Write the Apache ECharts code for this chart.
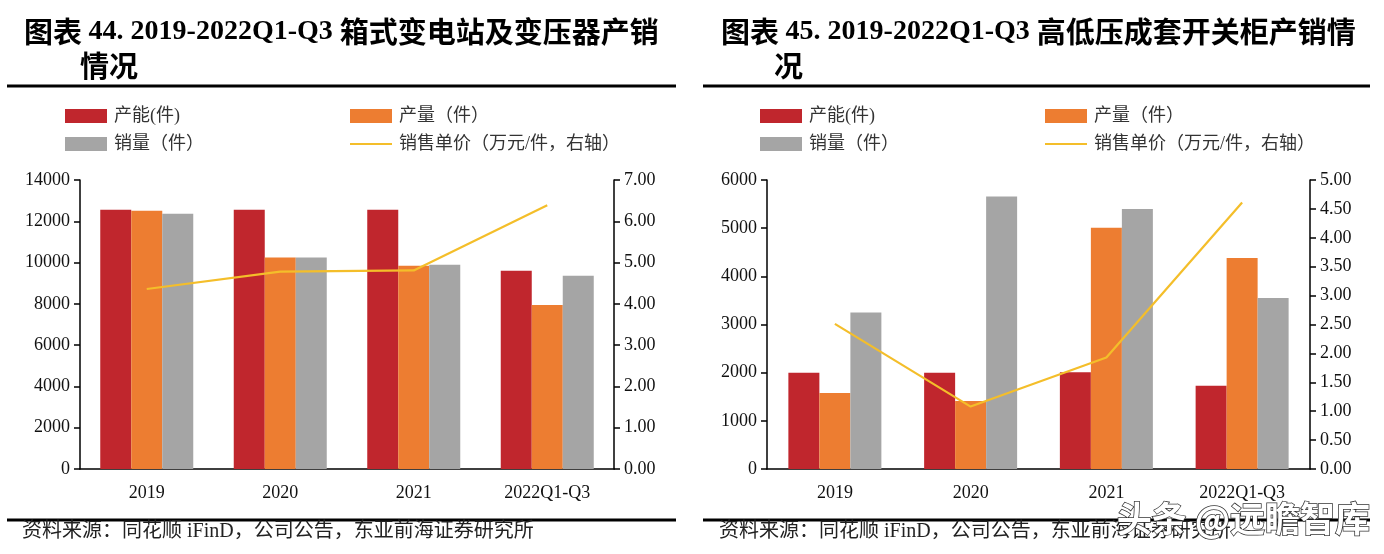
<!DOCTYPE html>
<html><head><meta charset="utf-8">
<script src="https://cdn.jsdelivr.net/npm/echarts@6/dist/echarts.min.js"></script>
<style>html,body{margin:0;padding:0;background:#fff}#c{width:1384px;height:554px}</style>
</head><body><div id="c"></div>
<script>
const categories = ['2019', '2020', '2021', '2022Q1-Q3'];
// Chart 44: box substations & transformers
const capacityA = [12560, 12560, 12560, 9600];
const outputA = [12510, 10240, 9840, 7950];
const salesA = [12370, 10240, 9890, 9360];
const priceA = [4.36, 4.78, 4.81, 6.39];
const leftTicksA = {min: 0, max: 14000, interval: 2000};
const rightTicksA = {min: 0, max: 7, interval: 1};
// Chart 45: switchgear
const capacityB = [2000, 2000, 2010, 1730];
const outputB = [1580, 1410, 5010, 4380];
const salesB = [3250, 5660, 5400, 3550];
const priceB = [2.51, 1.08, 1.93, 4.61];
const leftTicksB = {min: 0, max: 6000, interval: 1000};
const rightTicksB = {min: 0, max: 5, interval: 0.5};

const names = ['产能(件)', '产量（件）', '销量（件）', '销售单价（万元/件，右轴）'];
const colors = ['#C0262D', '#ED7D31', '#A5A5A5', '#F4BE2A'];
const SERIF = '"Liberation Serif","Noto Sans CJK SC",serif';
const CJK = '"Liberation Serif","Noto Sans CJK SC",sans-serif';

const chart = echarts.init(document.getElementById('c'));

function yAxes(gi, lt, rt) {
  const base = {
    type: 'value', gridIndex: gi, splitLine: {show: false},
    axisLine: {show: true, lineStyle: {color: '#000', width: 1.5}},
    axisTick: {show: true, length: 6, lineStyle: {color: '#000', width: 1.5}},
    axisLabel: {color: '#111', fontSize: 18, fontFamily: SERIF, margin: 10}
  };
  return [
    Object.assign({}, base, {position: 'left', min: lt.min, max: lt.max, interval: lt.interval,
      axisLabel: Object.assign({}, base.axisLabel, {formatter: v => String(v)})}),
    Object.assign({}, base, {position: 'right', min: rt.min, max: rt.max, interval: rt.interval,
      axisLabel: Object.assign({}, base.axisLabel, {formatter: v => v.toFixed(2)})})
  ];
}
function xAxis(gi) {
  return {
    type: 'category', gridIndex: gi, data: categories,
    axisLine: {show: true, lineStyle: {color: '#000', width: 1.5}},
    axisTick: {show: false},
    axisLabel: {color: '#111', fontSize: 18, fontFamily: SERIF, margin: 15}
  };
}
function seriesFor(gi, cap, out, sal, pr) {
  const xi = gi, yl = gi * 2, yr = gi * 2 + 1;
  const bar = (n, d, c) => ({name: n, type: 'bar', xAxisIndex: xi, yAxisIndex: yl, data: d,
    barWidth: 31, barGap: '0%', itemStyle: {color: c}});
  return [
    bar(names[0], cap, colors[0]),
    bar(names[1], out, colors[1]),
    bar(names[2], sal, colors[2]),
    {name: names[3], type: 'line', xAxisIndex: xi, yAxisIndex: yr, data: pr,
      symbol: 'none', lineStyle: {color: colors[3], width: 2.2}, itemStyle: {color: colors[3]}}
  ];
}
function legends(x1, x2) {
  const pos = [[x1, 106], [x2, 106], [x1, 134], [x2, 134]];
  return names.map((n, i) => ({
    data: [{name: n, icon: 'rect'}], left: pos[i][0], top: pos[i][1], padding: 0, itemWidth: 42,
    itemHeight: i === 3 ? 2 : 14,
    itemGap: 0, selectedMode: false,
    textStyle: {color: '#333', fontSize: 18, fontFamily: CJK, padding: [0, 0, 0, 2], lineHeight: 20}
  }));
}
function title(x, y, parts) {
  const rich = {
    c: {fontSize: 29, fontWeight: 'bold', fontFamily: '"Noto Sans CJK SC",sans-serif', fill: '#000', color: '#000'},
    l: {fontSize: 28, fontWeight: 'bold', fontFamily: '"Liberation Serif",serif', fill: '#000', color: '#000'}
  };
  const text = parts.map(p => `{${p[0]}|${p[1]}}`).join('');
  return {type: 'text', left: x, top: y, silent: true, style: {text: text, rich: rich, fill: '#000'}};
}
function txt(x, y, s, size) {
  return {type: 'text', left: x, top: y, silent: true,
    style: {text: s, fill: '#222', font: `normal ${size}px ${CJK}`}};
}
function hline(x1, x2, y, w) {
  return {type: 'line', silent: true, shape: {x1: x1, y1: y, x2: x2, y2: y}, style: {stroke: '#000', lineWidth: w}};
}

chart.setOption({
  animation: false,
  backgroundColor: '#fff',
  grid: [
    {left: 80, right: 770, top: 180, bottom: 85},
    {left: 767, right: 74, top: 180, bottom: 85}
  ],
  xAxis: [xAxis(0), xAxis(1)],
  yAxis: yAxes(0, leftTicksA, rightTicksA).concat(yAxes(1, leftTicksB, rightTicksB)),
  legend: legends(65, 350).concat(legends(760, 1045)),
  series: seriesFor(0, capacityA, outputA, salesA, priceA).concat(seriesFor(1, capacityB, outputB, salesB, priceB)),
  graphic: [
    title(24, 17, [['c', '图表 '], ['l', '44. 2019-2022Q1-Q3 '], ['c', '箱式变电站及变压器产销']]),
    title(80, 51, [['c', '情况']]),
    hline(7, 676, 86, 3),
    title(721, 17, [['c', '图表 '], ['l', '45. 2019-2022Q1-Q3 '], ['c', '高低压成套开关柜产销情']]),
    title(774, 51, [['c', '况']]),
    hline(703, 1370, 86, 3),
    hline(7, 676, 520, 3),
    hline(703, 1370, 520, 3),
    txt(22, 522, '资料来源：同花顺 iFinD，公司公告，东亚前海证券研究所', 20),
    txt(719, 522, '资料来源：同花顺 iFinD，公司公告，东亚前海证券研究所', 20),
    {type: 'text', left: 1116, top: 500, silent: true, z: 100,
      style: {text: '头条 @远瞻智库', fill: '#fff', stroke: '#333', lineWidth: 1.5,
        font: 'bold 35px "Noto Sans CJK SC",sans-serif'}}
  ]
});
</script></body></html>
